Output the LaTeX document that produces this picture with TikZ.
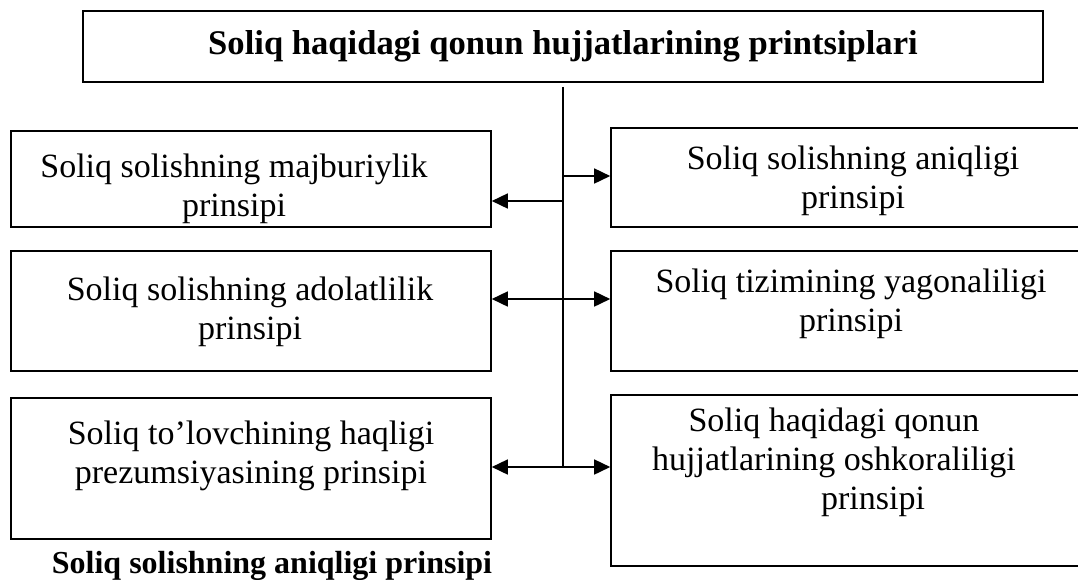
\documentclass[tikz,border=0pt]{standalone}
\usepackage{fontspec}
\setmainfont{Liberation Serif}
\usetikzlibrary{arrows.meta,calc}

\begin{document}
\begin{tikzpicture}[x=1pt,y=-1pt,
        box/.style={draw,line width=1.6pt,inner sep=0pt},
        txt/.style={align=center,inner sep=0pt,font=\fontsize{34}{39}\selectfont},
        arr/.style={line width=1.6pt,-{Triangle[length=16pt,width=15pt]}},
        arrs/.style={line width=1.6pt,{Triangle[length=16pt,width=15pt]}-{Triangle[length=16pt,width=15pt]}}]
        \clip (0,0) rectangle (1078,579);

        \node[box,minimum width=960pt,minimum height=71pt,font=\fontsize{34.6}{40}\selectfont\bfseries] (title) at (563,46.5) {Soliq haqidagi qonun hujjatlarining printsiplari};

        \node[box,minimum width=480pt,minimum height=96pt] (l1) at (251,179) {};
        \node[box,minimum width=480pt,minimum height=120pt] (l2) at (251,311) {};
        \node[box,minimum width=480pt,minimum height=141pt] (l3) at (251,468.5) {};
        \node[box,minimum width=480pt,minimum height=99pt] (r1) at (851,177.5) {};
        \node[box,minimum width=480pt,minimum height=120pt] (r2) at (851,311) {};
        \node[box,minimum width=480pt,minimum height=171pt] (r3) at (851,480.5) {};

        \node[txt] (l1t) at (234,188.5) {Soliq solishning majburiylik\\prinsipi};
        \node[txt] (l2t) at (250,312) {Soliq solishning adolatlilik\\prinsipi};
        \node[txt] (l3t) at (251,455.5) {Soliq to’lovchining haqligi\\prezumsiyasining prinsipi};
        \node[txt] (r1t) at (853,181) {Soliq solishning aniqligi\\prinsipi};
        \node[txt] (r2t) at (851,304) {Soliq tizimining yagonaliligi\\prinsipi};
        \node[txt] (r3t) at (834,462) {Soliq haqidagi qonun\\hujjatlarining oshkoraliligi\\\hspace*{78pt}prinsipi};

        \coordinate (j1) at (563,176);
        \coordinate (j2) at (563,201);
        \coordinate (j3) at (563,299);
        \coordinate (j4) at (563,467);
        \draw[line width=1.6pt] ([yshift=-4pt]title.south) -- (j4);
        \draw[arr] (j1) -- (j1 -| r1.west);
        \draw[arr] (j2) -- (j2 -| l1.east);
        \draw[arrs] (j3 -| l2.east) -- (j3 -| r2.west);
        \draw[arrs] (j4 -| l3.east) -- (j4 -| r3.west);

        \node[inner sep=0pt,font=\fontsize{32}{38}\selectfont\bfseries] (cap) at (272,565.5) {Soliq solishning aniqligi prinsipi};
\end{tikzpicture}
\end{document}
